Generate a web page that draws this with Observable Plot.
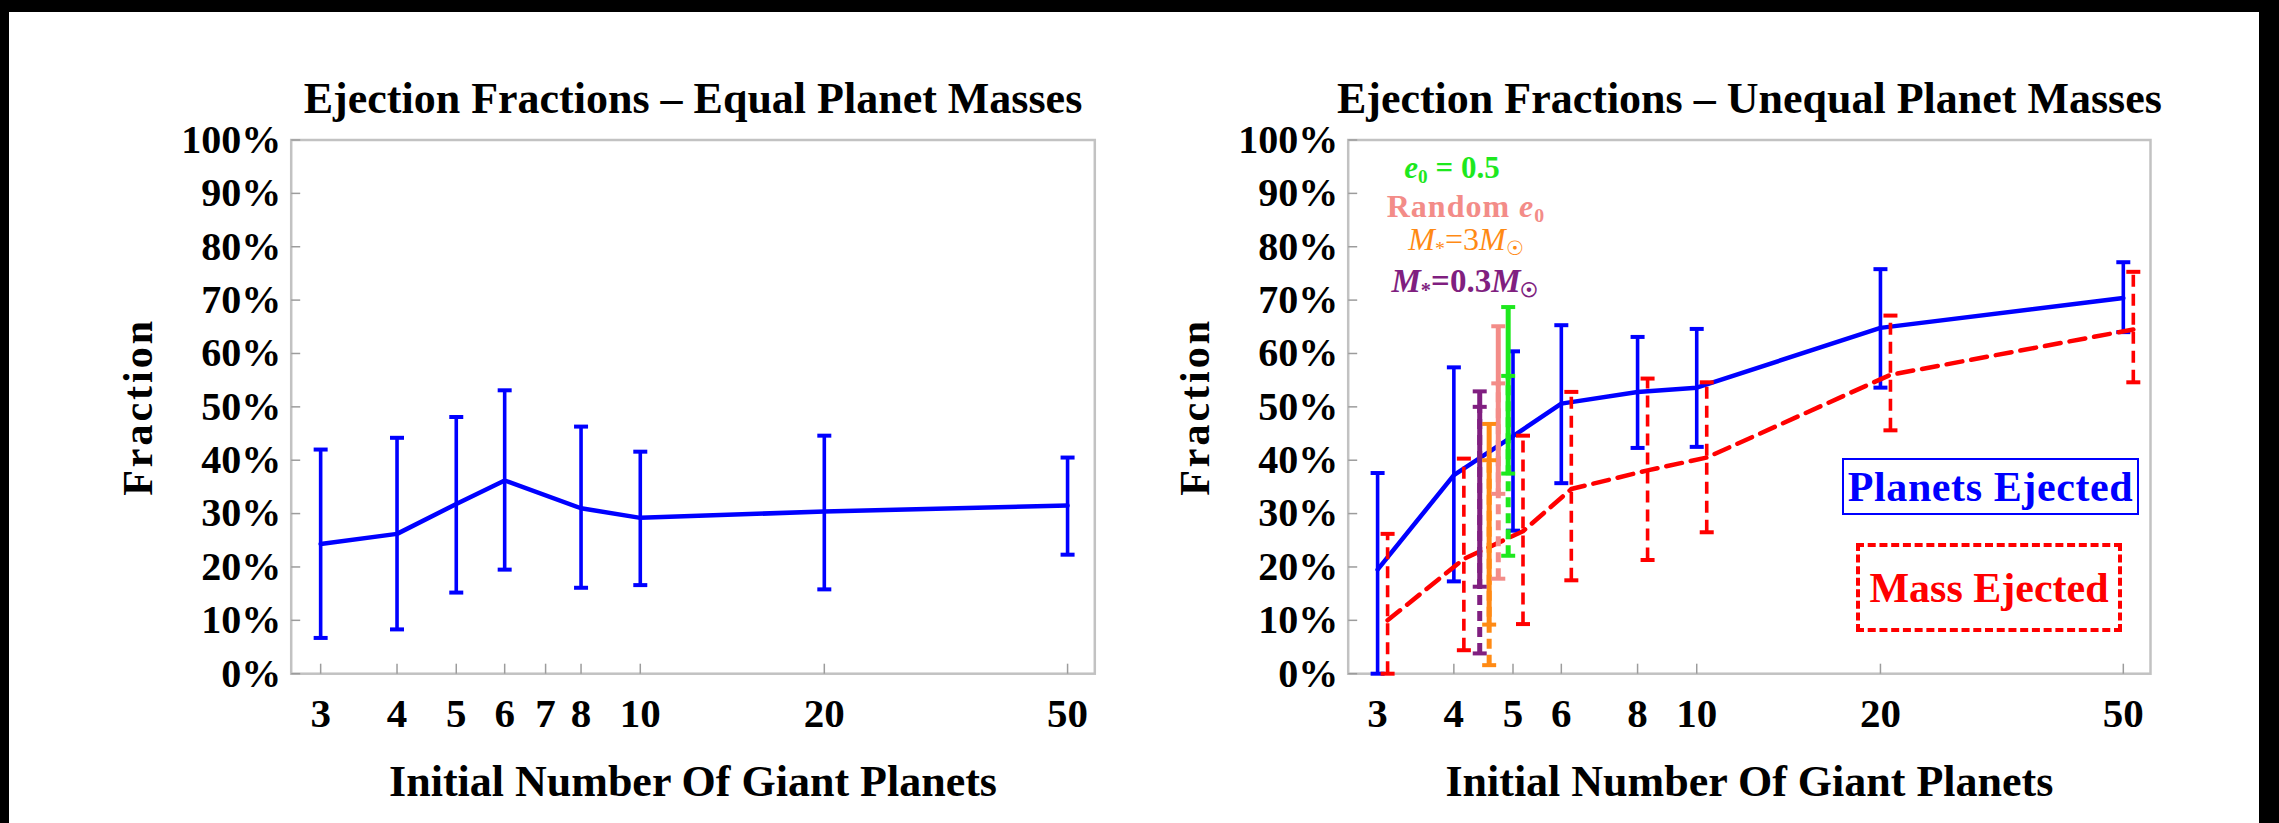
<!DOCTYPE html>
<html>
<head>
<meta charset="utf-8">
<script src="https://cdn.jsdelivr.net/npm/d3@7"></script>
<script src="https://cdn.jsdelivr.net/npm/@observablehq/plot@0.6"></script>
<style>
  html, body { margin: 0; padding: 0; background: #000; }
  #page { position: relative; width: 2279px; height: 823px; overflow: hidden; background: #000; }
  #sheet { position: absolute; left: 9px; top: 12px; width: 2250px; height: 811px; background: #fff; }
  .panel { position: absolute; top: 0; }
  .note { position: absolute; font-family: "Liberation Serif", serif; white-space: nowrap; text-align: center; line-height: 1; }
  .note sub { font-size: 0.62em; vertical-align: -0.25em; line-height: 0; }
  .key { position: absolute; box-sizing: border-box; display: flex; align-items: center; justify-content: center;
         font-family: "Liberation Serif", serif; font-weight: bold; font-size: 42px; white-space: nowrap; }
</style>
</head>
<body>
<div id="page"><div id="sheet"></div></div>
<script>
// ---- Equal planet masses: fraction of planets ejected ----
const nEqual    = [3, 4, 5, 6, 8, 10, 20, 50];
const fracEqual = [0.243, 0.262, 0.318, 0.362, 0.310, 0.292, 0.304, 0.315];
const loEqual   = [0.067, 0.083, 0.152, 0.195, 0.161, 0.166, 0.158, 0.223];
const hiEqual   = [0.420, 0.442, 0.481, 0.531, 0.463, 0.416, 0.446, 0.405];

// ---- Unequal planet masses ----
const nUnequal    = [3, 4, 5, 6, 8, 10, 20, 50];
// planets ejected
const planetsFrac = [0.195, 0.372, 0.445, 0.506, 0.528, 0.536, 0.648, 0.704];
const planetsLo   = [0.000, 0.173, 0.268, 0.357, 0.423, 0.425, 0.536, 0.640];
const planetsHi   = [0.376, 0.574, 0.604, 0.653, 0.631, 0.646, 0.758, 0.771];
// mass ejected
const massFrac    = [0.100, 0.215, 0.267, 0.346, 0.381, 0.405, 0.560, 0.645];
const massLo      = [0.000, 0.044, 0.093, 0.175, 0.213, 0.265, 0.456, 0.546];
const massHi      = [0.262, 0.403, 0.446, 0.528, 0.553, 0.546, 0.671, 0.753];

// alternative runs near N = 5
const variantLabels    = ["M* = 0.3 Msun", "M* = 3 Msun", "Random e0", "e0 = 0.5"];
const variantN         = [4.41, 4.57, 4.73, 4.91];
const variantPlanetsLo = [0.163, 0.092, 0.337, 0.375];
const variantPlanetsHi = [0.529, 0.468, 0.651, 0.687];
const variantMassLo    = [0.038, 0.016, 0.178, 0.221];
const variantMassHi    = [0.500, 0.400, 0.544, 0.558];

// axis ticks
const yTickValues   = [0, 0.1, 0.2, 0.3, 0.4, 0.5, 0.6, 0.7, 0.8, 0.9, 1];
const xTicksEqual   = [3, 4, 5, 6, 7, 8, 10, 20, 50];
const xTicksUnequal = [3, 4, 5, 6, 8, 10, 20, 50];

// ---- tables ----
const equalRows   = nEqual.map((n, i) => ({n, f: fracEqual[i], lo: loEqual[i], hi: hiEqual[i]}));
const planetRows  = nUnequal.map((n, i) => ({n, f: planetsFrac[i], lo: planetsLo[i], hi: planetsHi[i]}));
const massRows    = nUnequal.map((n, i) => ({n, f: massFrac[i], lo: massLo[i], hi: massHi[i]}));
const variantRows = variantLabels.map((label, i) => ({
  label, n: variantN[i],
  pLo: variantPlanetsLo[i], pHi: variantPlanetsHi[i],
  mLo: variantMassLo[i], mHi: variantMassHi[i]
}));

// ---- styling ----
const SERIF = "'Liberation Serif', 'Times New Roman', serif";
const BLUE = "#0000ff", RED = "#ff0000";
const variantColors = ["#801f80", "#ff8a14", "#f38c88", "#1ee81e"];
const H = 823, frameTop = 139.5, frameBottom = 673.2;
const xDomain = [2.685, 55.4];

// custom symbols: error-bar caps and inward axis ticks
const cap = {draw(ctx) { ctx.moveTo(-7, -2); ctx.lineTo(7, -2); ctx.lineTo(7, 2); ctx.lineTo(-7, 2); ctx.closePath(); }};
const tickRight = {draw(ctx) { ctx.moveTo(0, 0); ctx.lineTo(9, 0); }};
const tickUp = {draw(ctx) { ctx.moveTo(0, 0); ctx.lineTo(0, -10); }};

const pct = d3.format(".0%");

function panel({left, width, frameLeft, frameRight, title, xTicks, marks}) {
  const svg = Plot.plot({
    width, height: H,
    marginLeft: frameLeft - left,
    marginRight: left + width - frameRight,
    marginTop: frameTop,
    marginBottom: H - frameBottom,
    x: {type: "log", domain: xDomain, axis: null},
    y: {domain: [0, 1], axis: null},
    color: {domain: variantLabels, range: variantColors},
    style: {background: "transparent", fontFamily: SERIF, overflow: "visible", color: "#000"},
    marks: [
      Plot.frame({stroke: "#c2c2c2", strokeWidth: 2.5}),
      Plot.dot(yTickValues, {y: d => d, frameAnchor: "left", symbol: tickRight, fill: "none", stroke: "#9c9c9c", strokeWidth: 1.5}),
      Plot.dot(xTicks, {x: d => d, frameAnchor: "bottom", symbol: tickUp, fill: "none", stroke: "#9c9c9c", strokeWidth: 1.5}),
      Plot.text(yTickValues, {y: d => d, frameAnchor: "left", text: d => pct(d), textAnchor: "end", dx: -10,
        fontSize: 40, fontWeight: "bold", fill: "#000"}),
      Plot.text(xTicks, {x: d => d, frameAnchor: "bottom", text: d => String(d), lineAnchor: "top", dy: 24,
        fontSize: 41, fontWeight: "bold", fill: "#000"}),
      Plot.text([title], {frameAnchor: "top", text: d => d, lineAnchor: "top", dy: -58,
        fontSize: 44, fontWeight: "bold", fill: "#000"}),
      Plot.text(["Fraction"], {frameAnchor: "left", text: d => d, textAnchor: "middle", rotate: -90, dx: -153,
        fontSize: 42, fontWeight: "bold", fill: "#000"}),
      Plot.text(["Initial Number Of Giant Planets"], {frameAnchor: "bottom", text: d => d, lineAnchor: "top", dy: 91,
        fontSize: 44, fontWeight: "bold", fill: "#000"}),
      ...marks
    ]
  });
  svg.classList.add("panel");
  svg.style.left = left + "px";
  svg.querySelectorAll("text").forEach(t => {
    if (t.textContent === "Fraction") t.setAttribute("letter-spacing", "3");
  });
  return svg;
}

const page = document.getElementById("page");

// left: equal planet masses
page.appendChild(panel({
  left: 0, width: 1140, frameLeft: 290.7, frameRight: 1094.3,
  title: "Ejection Fractions \u2013 Equal Planet Masses",
  xTicks: xTicksEqual,
  marks: [
    Plot.ruleX(equalRows, {x: "n", y1: "lo", y2: "hi", stroke: BLUE, strokeWidth: 3.6}),
    Plot.dot(equalRows, {x: "n", y: "lo", symbol: cap, fill: BLUE, stroke: "none"}),
    Plot.dot(equalRows, {x: "n", y: "hi", symbol: cap, fill: BLUE, stroke: "none"}),
    Plot.line(equalRows, {x: "n", y: "f", stroke: BLUE, strokeWidth: 4.5})
  ]
}));

// right: unequal planet masses
const MASS_DX = 10;
page.appendChild(panel({
  left: 1140, width: 1139, frameLeft: 1347.7, frameRight: 2150,
  title: "Ejection Fractions \u2013 Unequal Planet Masses",
  xTicks: xTicksUnequal,
  marks: [
    Plot.ruleX(planetRows, {x: "n", y1: "lo", y2: "hi", stroke: BLUE, strokeWidth: 3.6}),
    Plot.dot(planetRows, {x: "n", y: "lo", symbol: cap, fill: BLUE, stroke: "none"}),
    Plot.dot(planetRows, {x: "n", y: "hi", symbol: cap, fill: BLUE, stroke: "none"}),
    Plot.line(planetRows, {x: "n", y: "f", stroke: BLUE, strokeWidth: 4.5}),

    Plot.ruleX(massRows, {x: "n", y1: "lo", y2: "hi", stroke: RED, strokeWidth: 3.6, strokeDasharray: "12,7", dx: MASS_DX}),
    Plot.dot(massRows, {x: "n", y: "lo", symbol: cap, fill: RED, stroke: "none", dx: MASS_DX}),
    Plot.dot(massRows, {x: "n", y: "hi", symbol: cap, fill: RED, stroke: "none", dx: MASS_DX}),
    Plot.line(massRows, {x: "n", y: "f", stroke: RED, strokeWidth: 4.5, strokeDasharray: "16,9", dx: MASS_DX}),

    Plot.ruleX(variantRows, {x: "n", y1: "pLo", y2: "pHi", stroke: "label", strokeWidth: 5}),
    Plot.dot(variantRows, {x: "n", y: "pLo", symbol: cap, fill: "label", stroke: "none"}),
    Plot.dot(variantRows, {x: "n", y: "pHi", symbol: cap, fill: "label", stroke: "none"}),
    Plot.ruleX(variantRows, {x: "n", y1: "mLo", y2: "mHi", stroke: "label", strokeWidth: 5, strokeDasharray: "10,6"}),
    Plot.dot(variantRows, {x: "n", y: "mLo", symbol: cap, fill: "label", stroke: "none"}),
    Plot.dot(variantRows, {x: "n", y: "mHi", symbol: cap, fill: "label", stroke: "none"})
  ]
}));

// run labels and series key boxes
const overlay = `
  <div class="note" style="left:1302px;width:300px;top:152px;font-size:31px;font-weight:bold;color:${variantColors[3]}"><i>e</i><sub>0</sub> = 0.5</div>
  <div class="note" style="left:1316px;width:300px;top:190px;font-size:32px;font-weight:bold;letter-spacing:1px;color:${variantColors[2]}">Random <i>e</i><sub>0</sub></div>
  <div class="note" style="left:1316px;width:300px;top:223px;font-size:32px;color:${variantColors[1]}"><i>M</i><sub>*</sub>=3<i>M</i><sub>\u2609</sub></div>
  <div class="note" style="left:1315px;width:300px;top:265px;font-size:33px;font-weight:bold;color:${variantColors[0]}"><i>M</i><sub>*</sub>=0.3<i>M</i><sub>\u2609</sub></div>
  <div class="key" style="left:1842px;top:458px;width:297px;height:57px;border:2.5px solid ${BLUE};color:${BLUE};letter-spacing:0.6px">Planets Ejected</div>
  <div class="key" style="left:1856px;top:543px;width:266px;height:89px;border:4px dashed ${RED};color:${RED}">Mass Ejected</div>
`;
page.insertAdjacentHTML("beforeend", overlay);
</script>
</body>
</html>
